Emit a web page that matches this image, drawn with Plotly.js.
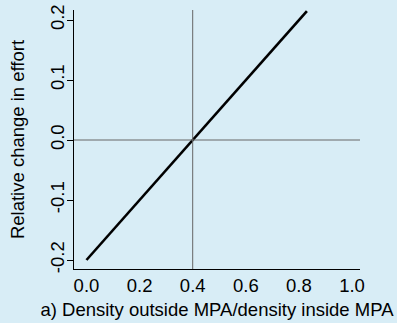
<!DOCTYPE html>
<html>
<head>
<meta charset="utf-8">
<script src="https://cdn.plot.ly/plotly-3.0.1.min.js"></script>
<style>
html,body{margin:0;padding:0;background:#d8edf6;}
#chart{width:397px;height:323px;}
</style>
</head>
<body>
<div id="chart"></div>
<script>
// Data
var lineX = [0.0, 0.83];
var lineY = [-0.2, 0.215];
var refX = 0.4;   // vertical reference line
var refY = 0.0;   // horizontal reference line
var xTickVals = [0.0, 0.2, 0.4, 0.6, 0.8, 1.0];
var xTickText = ["0.0", "0.2", "0.4", "0.6", "0.8", "1.0"];
var yTickVals = [-0.2, -0.1, 0.0, 0.1, 0.2];
var yTickText = ["-0.2", "-0.1", "0.0", "0.1", "0.2"];
var xTitle = "a) Density outside MPA/density inside MPA";
var yTitle = "Relative change in effort";

var bg = "#d8edf6";
var fontFam = "Liberation Sans, Arial, sans-serif";
var fs = 18.5;

var trace = {
  x: lineX, y: lineY, type: "scatter", mode: "lines",
  line: {color: "#000000", width: 2.6}, hoverinfo: "skip"
};

var layout = {
  width: 397, height: 323,
  paper_bgcolor: bg, plot_bgcolor: bg,
  margin: {l: 74, r: 37, t: 10, b: 54, pad: 0},
  showlegend: false,
  font: {family: fontFam, size: fs, color: "#000000"},
  xaxis: {
    range: [-0.047, 1.03],
    tickmode: "array", tickvals: xTickVals, ticktext: xTickText,
    ticks: "", showgrid: false, zeroline: false,
    showline: true, linecolor: "#000000", linewidth: 1,
    tickfont: {family: fontFam, size: fs, color: "#000000"},
    title: {text: xTitle, font: {family: fontFam, size: fs, color: "#000000"}, standoff: 7},
    automargin: false
  },
  yaxis: {
    range: [-0.215, 0.2167],
    tickmode: "array", tickvals: yTickVals, ticktext: yTickText,
    ticks: "outside", ticklen: 6, tickwidth: 1, tickcolor: "#000000",
    tickangle: -90,
    ticklabelstandoff: -4,
    showgrid: false, zeroline: false,
    showline: true, linecolor: "#000000", linewidth: 1,
    tickfont: {family: fontFam, size: fs, color: "#000000"},
    title: {text: yTitle, font: {family: fontFam, size: fs, color: "#000000"}, standoff: 17},
    automargin: false
  },
  shapes: [
    {type: "line", xref: "x", yref: "paper", x0: refX, x1: refX, y0: 0, y1: 1,
     line: {color: "#666666", width: 1}},
    {type: "line", xref: "paper", yref: "y", x0: 0, x1: 1, y0: refY, y1: refY,
     line: {color: "#666666", width: 1}}
  ]
};

Plotly.newPlot("chart", [trace], layout, {displayModeBar: false, staticPlot: true});
</script>
</body>
</html>
